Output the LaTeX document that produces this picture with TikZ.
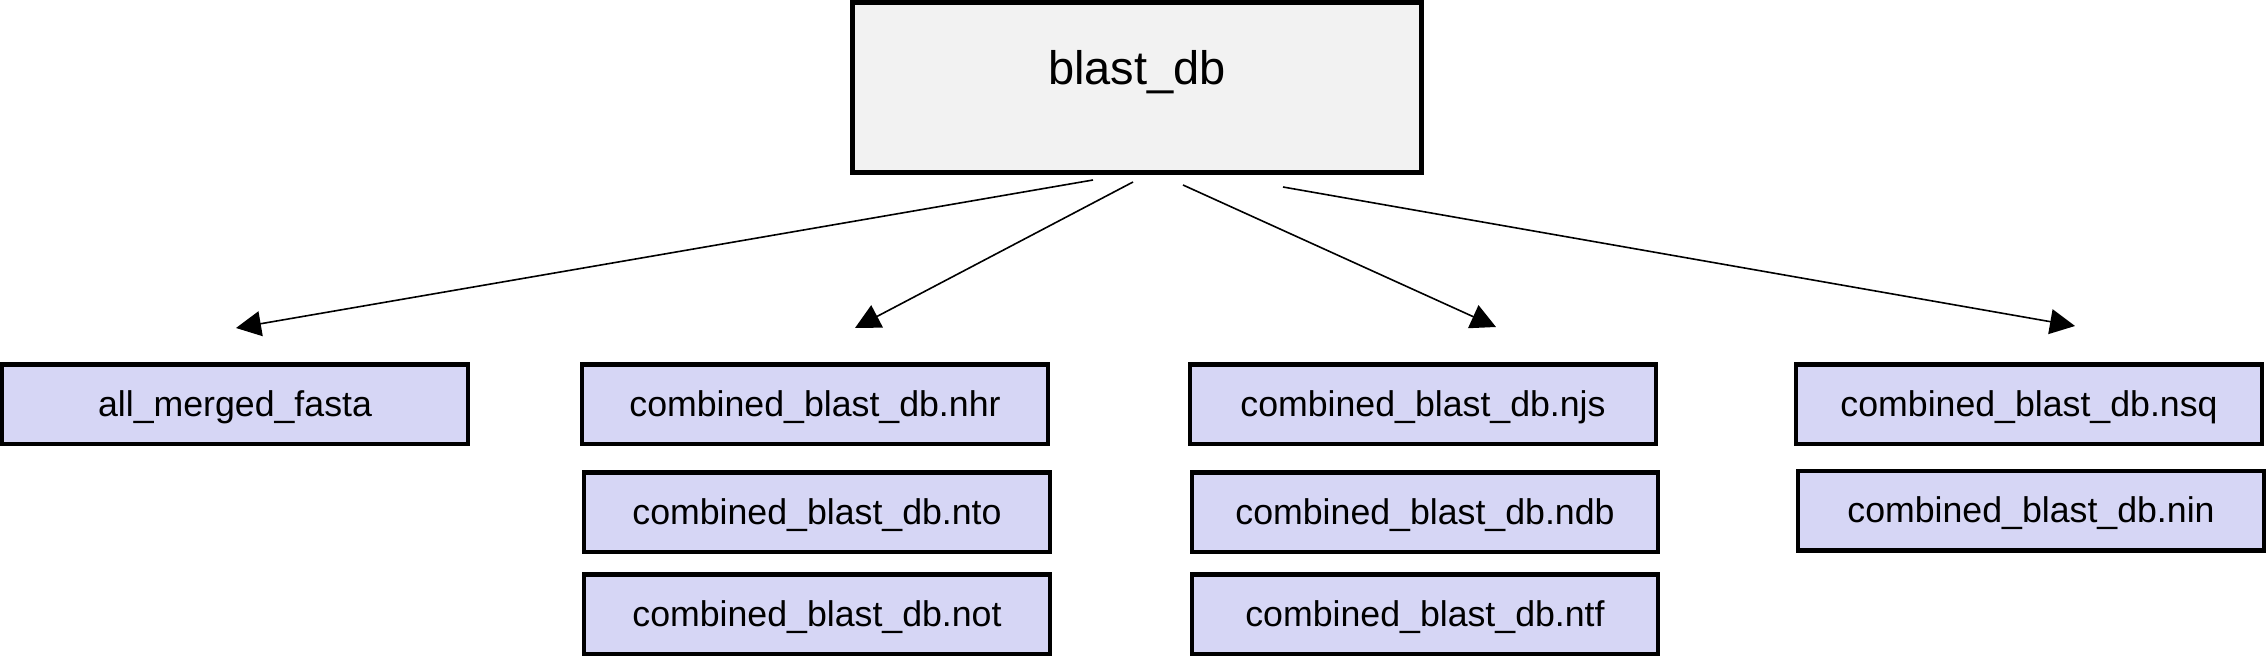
\documentclass[tikz,border=0pt]{standalone}
\usepackage{fontspec}
\setmainfont{Liberation Sans}
\usetikzlibrary{arrows.meta}
\definecolor{topfill}{RGB}{242,242,242}
\definecolor{boxfill}{RGB}{214,214,245}
\begin{document}
\begin{tikzpicture}[x=0.5pt,y=-0.5pt,
  rootbox/.style={draw=black, line width=2.5pt, fill=topfill, minimum width=284.5pt, minimum height=85pt, inner sep=0pt, text height=8pt, text depth=10.5pt, font=\fontsize{23.5}{28}\selectfont},
  filebox/.style={draw=black, line width=2.25pt, fill=boxfill, minimum width=233pt, minimum height=39.75pt, inner sep=0pt, text height=13.5pt, text depth=1.5pt, font=\fontsize{17.85}{21}\selectfont},
  conn/.style={line width=0.8pt, -{Triangle[length=12.5pt,width=12.5pt]}}]
\useasboundingbox (0,0) rectangle (2267,658);

\node[rootbox] (root) at (1137,87.5) {blast\_db};

\node[filebox] (fasta) at (235,404) {all\_merged\_fasta};
\node[filebox] (nhr) at (815,404) {combined\_blast\_db.nhr};
\node[filebox] (nto) at (817,512) {combined\_blast\_db.nto};
\node[filebox] (not) at (817,614) {combined\_blast\_db.not};
\node[filebox] (njs) at (1423,404) {combined\_blast\_db.njs};
\node[filebox] (ndb) at (1425,512) {combined\_blast\_db.ndb};
\node[filebox] (ntf) at (1425,614) {combined\_blast\_db.ntf};
\node[filebox] (nsq) at (2029,404) {combined\_blast\_db.nsq};
\node[filebox] (nin) at (2031,510.5) {combined\_blast\_db.nin};

\coordinate (s1) at (1093,180);
\coordinate (e1) at (236,328);
\coordinate (s2) at (1133,182);
\coordinate (e2) at (855,328);
\coordinate (s3) at (1183,185);
\coordinate (e3) at (1496,327);
\coordinate (s4) at (1283,187);
\coordinate (e4) at (2075,326);

\draw[conn] (s1) -- (e1);
\draw[conn] (s2) -- (e2);
\draw[conn] (s3) -- (e3);
\draw[conn] (s4) -- (e4);
\end{tikzpicture}
\end{document}
